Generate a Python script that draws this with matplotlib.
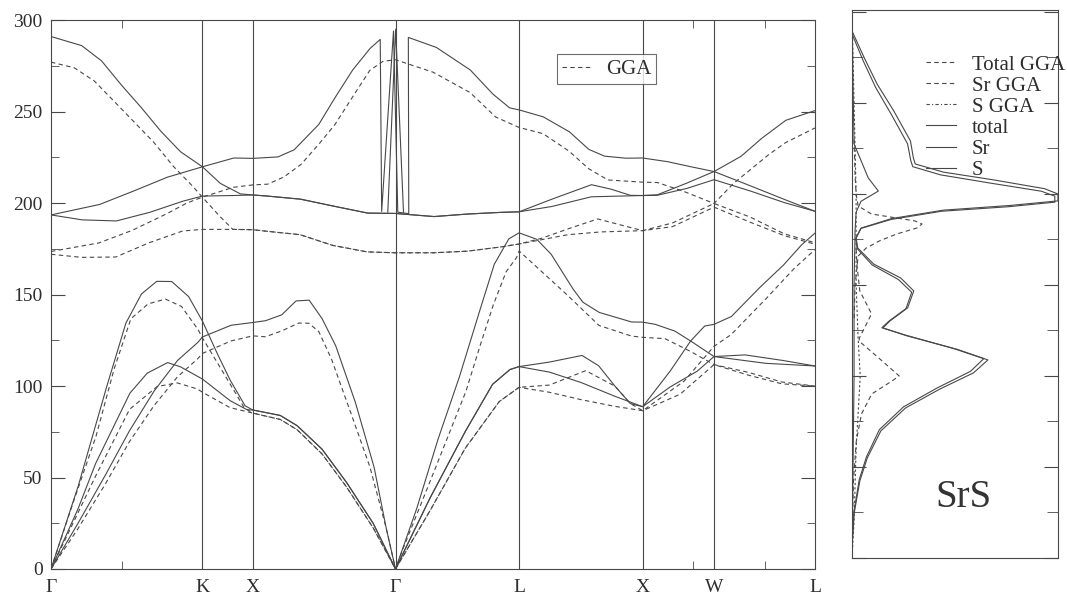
import matplotlib
matplotlib.use("Agg")
import matplotlib.pyplot as plt
from matplotlib.lines import Line2D

plt.rcParams["font.family"] = ["Liberation Serif", "DejaVu Serif"]

INK = "#484848"
TXT = "#2e2e2e"
LW = 0.8
DASH = (0, (4, 3))

# high symmetry points of the fcc path (units of 2*pi/a)
sym_k = [0, 1.0607, 1.4142, 2.4142, 3.2802, 4.1463, 4.6463, 5.3534]
sym_labels = ["Γ", "K", "X", "Γ", "L", "X", "W", "L"]

# ---- phonon branches, solid curves (cm-1) ----
so1_k = [0, 0.215, 0.354, 0.493, 0.631, 0.770, 0.908, 1.061, 1.187, 1.327, 1.414, 1.516, 1.749,
         1.980, 2.219, 2.414, 2.684, 2.923, 3.155, 3.280, 3.510, 3.787, 3.923, 4.060, 4.146,
         4.249, 4.456, 4.646, 4.904, 5.141, 5.353]
so1_f = [291, 286, 277.7, 264.5, 252.3, 239.2, 228, 219.8, 210.7, 205, 204.4, 203.8, 202.1,
         198.3, 194.5, 194.3, 192.6, 194.0, 194.9, 195.2, 202.1, 210.0, 207.6, 204.2, 204.1,
         204.5, 210.9, 217.2, 209.3, 201.9, 195.5]

so2_k = [0, 0.340, 0.574, 0.815, 1.061, 1.281, 1.414, 1.591, 1.704, 1.876, 1.992, 2.114, 2.236,
         2.307, 2.317, 2.400, 2.430, 2.507, 2.504, 2.701, 2.938, 3.097, 3.214, 3.280, 3.449,
         3.633, 3.769, 3.879, 4.029, 4.146, 4.320, 4.479, 4.646, 4.835, 4.981, 5.149, 5.353]
so2_f = [193.5, 199.2, 206.4, 214.1, 219.8, 224.6, 224.4, 225.2, 229.1, 242.9, 257.8, 272.7, 284.5,
         289.4, 195.4, 294, 195, 194.2, 290.5, 285.0, 272.7, 259.5, 252.0, 250.9, 247.1,
         238.9, 229.3, 225.6, 224.5, 224.6, 222.6, 219.9, 217.2, 225.5, 235.4, 245.2, 250.5]

so3_k = [0, 0.218, 0.458, 0.691, 0.924, 1.061, 1.277, 1.414, 1.516, 1.749, 1.980, 2.219, 2.414,
         2.684, 2.923, 3.155, 3.280, 3.509, 3.786, 4.146, 4.247, 4.456, 4.646, 4.903, 5.140, 5.353]
so3_f = [193.5, 190.8, 190.2, 194.9, 201, 203.8, 204.1, 204.4, 203.8, 202.1, 198.3, 194.5, 194.3,
         192.6, 194.0, 194.9, 195.2, 198.1, 203.4, 204.1, 204.2, 208, 212.75, 206.5, 200.2, 195.5]

spike_k = [2.36, 2.415, 2.47]
spike_f = [195, 295, 195]

sa1_k = [0, 0.191, 0.392, 0.525, 0.634, 0.741, 0.846, 0.964, 1.061, 1.167, 1.257, 1.360, 1.414,
         1.607, 1.725, 1.899, 2.072, 2.258, 2.414, 2.656, 2.904, 3.094, 3.216, 3.280, 3.494,
         3.721, 3.837, 3.952, 4.060, 4.146, 4.340, 4.482, 4.581, 4.646, 4.768, 4.965, 5.134,
         5.259, 5.353]
sa1_f = [0, 45.4, 100.1, 134.4, 150.3, 157.2, 157.1, 148.9, 135.5, 117.4, 103.0, 89.2, 86.9,
         83.9, 78.3, 65.5, 47.2, 24.9, 0, 38.8, 75.3, 100.9, 109.0, 110.6, 113.1,
         116.7, 111.1, 99.9, 90.4, 88.7, 108.3, 124.6, 132.8, 133.7, 138, 153.7, 166.2,
         177.1, 183.5]

sa2_k = [0, 0.189, 0.313, 0.553, 0.674, 0.817, 0.907, 1.061, 1.255, 1.374, 1.414, 1.607, 1.725,
         1.899, 2.072, 2.258, 2.414, 2.656, 2.904, 3.094, 3.216, 3.280, 3.493, 3.718, 3.951,
         4.146, 4.339, 4.528, 4.646, 5.008, 5.353]
sa2_f = [0, 32.8, 57.7, 96.1, 107.0, 112.8, 110.5, 103.8, 92.0, 87.0, 86.9, 83.9, 78.3,
         65.5, 47.2, 24.9, 0, 38.8, 75.3, 100.9, 109.0, 110.6, 107.6, 101.8, 94.4,
         88.7, 99.5, 108.1, 116.1, 112.4, 110.95]

sa3_k = [0, 0.188, 0.383, 0.549, 0.722, 0.887, 1.030, 1.061, 1.262, 1.414, 1.504, 1.617, 1.717,
         1.809, 1.899, 1.995, 2.133, 2.264, 2.349, 2.414, 2.563, 2.712, 2.861, 3.010, 3.106,
         3.208, 3.280, 3.403, 3.504, 3.659, 3.727, 3.842, 4.068, 4.146, 4.234, 4.372, 4.482,
         4.646, 4.864, 5.125, 5.353]
sa3_f = [0, 24.8, 51.6, 75.4, 97.2, 114, 123.9, 126.8, 133.2, 134.7, 135.7, 138.9, 146.5,
         146.9, 136.9, 122.0, 91.0, 55.6, 22.3, 0, 33.1, 70.9, 104.8, 142.6, 166.5,
         180.4, 183.7, 180.2, 172.1, 152.9, 145.8, 140.2, 135.0, 134.9, 133.7, 130.0, 124.6,
         116.1, 117, 114, 110.95]

# ---- phonon branches, GGA (dashed) ----
do1_k = [0, 0.163, 0.303, 0.442, 0.581, 0.720, 0.857, 0.996, 1.061, 1.183, 1.274, 1.414, 1.508,
         1.745, 1.976, 2.215, 2.414, 2.680, 2.919, 3.152, 3.280, 3.437, 3.624, 3.831, 3.968,
         4.146, 4.355, 4.646, 4.900, 5.137, 5.353]
do1_f = [277, 273.9, 266.7, 255.6, 244.4, 233.2, 220.1, 208.9, 203.2, 192.7, 185.6, 185.4, 184.6,
         182.7, 176.8, 173.3, 172.8, 172.8, 173.7, 176.0, 177.6, 180.7, 185.9, 191.3, 188.5,
         184.9, 189.1, 199.75, 192.3, 183.2, 178.3]

do2_k = [0, 0.336, 0.570, 0.810, 0.952, 1.061, 1.278, 1.414, 1.518, 1.631, 1.752, 1.874, 1.989,
         2.111, 2.234, 2.326, 2.414, 2.677, 2.936, 3.116, 3.280, 3.448, 3.631, 3.767, 3.903,
         4.146, 4.249, 4.429, 4.646, 4.781, 5.030, 5.147, 5.353]
do2_f = [173.5, 178.2, 185.1, 194.1, 200, 203.2, 208.6, 209.9, 210.3, 214.2, 221.1, 231.9, 242.8,
         257.7, 272.5, 277.4, 278.3, 271.5, 260.4, 247.0, 241.3, 237.9, 228.3, 218.8, 212.6,
         211.4, 211.2, 206.5, 199.75, 210.6, 226.5, 233, 241]

do3_k = [0, 0.215, 0.454, 0.688, 0.922, 1.061, 1.274, 1.414, 1.508, 1.745, 1.976, 2.215, 2.414,
         2.680, 2.919, 3.152, 3.280, 3.623, 3.851, 4.146, 4.355, 4.646, 4.900, 5.137, 5.353]
do3_f = [172, 170.3, 170.5, 178.3, 184.7, 185.6, 185.6, 185.4, 184.6, 182.7, 176.8, 173.3, 172.8,
         172.8, 173.7, 176.0, 177.6, 182.7, 184.2, 184.9, 187.1, 197.75, 189.5, 182.2, 177.5]

da1_k = [0, 0.147, 0.316, 0.443, 0.560, 0.681, 0.802, 0.914, 1.031, 1.061, 1.215, 1.354, 1.414,
         1.607, 1.725, 1.899, 2.072, 2.258, 2.414, 2.654, 2.902, 3.141, 3.280, 3.492, 3.747,
         3.952, 4.060, 4.146, 4.437, 4.646, 4.766, 5.015, 5.206, 5.353]
da1_f = [0, 34.4, 72.7, 109.5, 136.8, 144.9, 147.5, 143.5, 130.8, 126.3, 106.3, 88.1, 85.2,
         81.7, 76.1, 62.9, 44.7, 22.4, 0, 31.6, 65.9, 91.5, 99.3, 100.5, 108.4,
         99.9, 90.4, 86.5, 102.7, 121.7, 128.1, 148.1, 164.1, 174.5]

da2_k = [0, 0.312, 0.551, 0.744, 0.885, 1.025, 1.061, 1.254, 1.414, 1.607, 1.725, 1.899, 2.072,
         2.258, 2.414, 2.654, 2.902, 3.141, 3.280, 3.491, 3.717, 3.950, 4.146, 4.408, 4.646,
         4.884, 5.121, 5.353]
da2_f = [0, 50.7, 87.3, 99.7, 101.7, 98.4, 96.6, 88.2, 85.2, 81.7, 76.1, 62.9, 44.7,
         22.4, 0, 31.6, 65.9, 91.5, 99.3, 96.6, 92.5, 88.9, 86.5, 95.5, 111.7,
         106.0, 101.2, 99.95]

da3_k = [0, 0.187, 0.382, 0.548, 0.721, 0.886, 1.028, 1.061, 1.260, 1.414, 1.502, 1.616, 1.736,
         1.806, 1.876, 1.965, 2.100, 2.235, 2.349, 2.414, 2.467, 2.657, 2.908, 3.005, 3.100,
         3.189, 3.263, 3.280, 3.387, 3.618, 3.840, 4.067, 4.146, 4.302, 4.481, 4.646, 4.884,
         5.121, 5.353]
da3_f = [0, 21.8, 46.6, 69.4, 89.2, 105.0, 114.9, 117.8, 124.6, 127.4, 126.9, 130.1, 134.4,
         134.3, 129.8, 114.8, 85.5, 55.7, 22.3, 0, 11.2, 48.0, 97.2, 121.6, 144.5,
         162.4, 170.3, 173.8, 166.2, 149.7, 133.1, 127.3, 126.6, 125.9, 118.9, 111.7, 107.5,
         102.2, 99.95]

# ---- phonon DOS (arbitrary units) ----
dos_total_f = [289.6, 274.7, 260.4, 245.6, 229.1, 219.8, 216.5, 212, 207.7, 202.9, 200, 196.2,
               193.7, 191.1, 186.5, 181.3, 175.8, 170.3, 161.5, 153.8, 146.7, 137.4, 130.2,
               126.4, 122, 114.6, 108.8, 101.7, 92.7, 82.4, 69.8, 54.9, 42.3, 24.2, 5.5, 0]
dos_total = [0, 0.06, 0.122, 0.203, 0.284, 0.298, 0.307, 0.444, 0.69, 0.935, 1.0, 1.0,
             0.77, 0.443, 0.193, 0.045, 0.02, 0.028, 0.105, 0.237, 0.30, 0.27, 0.184,
             0.15, 0.268, 0.512, 0.66, 0.59, 0.425, 0.26, 0.14, 0.074, 0.038, 0.01, 0, 0]
dos_total_gga_f = [288, 273, 258.5, 243.5, 227.5, 218.5, 215, 210.5, 206, 201.5, 198.8, 195.5,
                   193, 190.5, 186, 181, 175.5, 170, 161, 153, 146, 137, 130,
                   126.5, 122.5, 115, 109.5, 102.5, 93.5, 83, 70.5, 55.5, 43, 25, 6, 0]
dos_total_gga = [0, 0.055, 0.115, 0.192, 0.27, 0.285, 0.295, 0.43, 0.67, 0.92, 0.985, 0.985,
                 0.76, 0.435, 0.19, 0.042, 0.018, 0.025, 0.098, 0.225, 0.29, 0.262, 0.178,
                 0.145, 0.258, 0.495, 0.64, 0.575, 0.415, 0.25, 0.133, 0.07, 0.035, 0.009, 0, 0]
dos_s_gga_f = [230, 210, 200, 193.4, 189, 186.8, 185.2, 183.5, 181.3, 178, 174.2, 170.3, 165.9, 150, 130]
dos_s_gga = [0.01, 0.015, 0.02, 0.03, 0.094, 0.217, 0.305, 0.34, 0.315, 0.217, 0.133, 0.069, 0.03, 0.015, 0.01]
dos_sr_gga_f = [170, 160, 146.7, 134.1, 120.9, 119.2, 108.2, 100, 97.3, 90.1, 79.1, 64.3, 42.3, 9.3, 0]
dos_sr_gga = [0.02, 0.025, 0.038, 0.095, 0.036, 0.034, 0.147, 0.229, 0.195, 0.096, 0.046, 0.021, 0.007, 0, 0]
dos_s_f = [300, 260, 227.5, 208.8, 201.6, 196, 190, 180, 150, 100, 50, 0]
dos_s = [0, 0.005, 0.01, 0.079, 0.128, 0.044, 0.02, 0.015, 0.01, 0.01, 0.005, 0]
dos_sr_f = [300, 250, 200, 150, 120, 100, 60, 20, 0]
dos_sr = [0, 0.01, 0.02, 0.02, 0.03, 0.04, 0.02, 0.01, 0]

legend_labels = ["Total GGA", "Sr GGA", "S GGA", "total", "Sr", "S"]

fig = plt.figure(figsize=(10.67, 5.98), dpi=100)
ax = fig.add_axes([0.0478, 0.0485, 0.716, 0.918])
ax2 = fig.add_axes([0.7985, 0.067, 0.193, 0.916])

solid = [(so1_k, so1_f), (so2_k, so2_f), (so3_k, so3_f), (spike_k, spike_f),
         (sa1_k, sa1_f), (sa2_k, sa2_f), (sa3_k, sa3_f)]
dashed = [(do1_k, do1_f), (do2_k, do2_f), (do3_k, do3_f),
          (da1_k, da1_f), (da2_k, da2_f), (da3_k, da3_f)]
for k, f in solid:
    ax.plot(k, f, color=INK, lw=LW)
for k, f in dashed:
    ax.plot(k, f, color=INK, lw=LW, ls=DASH)

for k in sym_k[1:-1]:
    ax.axvline(k, color=INK, lw=LW)

ax.set_xlim(0, sym_k[-1])
ax.set_ylim(0, 300)
ax.set_xticks(sym_k)
ax.set_xticklabels(sym_labels, fontsize=14, color=TXT)
ax.set_xticks([0.5, 4.5, 5.0], minor=True)
ax.tick_params(axis="x", which="major", length=0, pad=7)
ax.tick_params(axis="x", which="minor", direction="in", length=6, top=True, color=INK)
ax.set_yticks(range(0, 301, 50))
ax.set_yticks(range(25, 300, 50), minor=True)
ax.tick_params(axis="y", which="major", direction="in", length=10, right=True,
               labelsize=14, labelcolor=TXT, color=INK, pad=6)
ax.tick_params(axis="y", which="minor", direction="in", length=6, right=True, color=INK)
for s in ax.spines.values():
    s.set_color(INK)
    s.set_linewidth(LW)

h = Line2D([], [], color=INK, lw=LW, ls=DASH)
leg = ax.legend([h], ["GGA"], loc="upper left", bbox_to_anchor=(0.662, 0.938),
                fontsize=15, frameon=True, fancybox=False, handlelength=1.5,
                borderpad=0.25, handletextpad=0.6, borderaxespad=0)
leg.get_frame().set_edgecolor(INK)
leg.get_frame().set_linewidth(LW)
for t in leg.get_texts():
    t.set_color(TXT)

# DOS panel
ax2.plot(dos_total, dos_total_f, color=INK, lw=LW)
ax2.plot(dos_total_gga, dos_total_gga_f, color=INK, lw=LW)
ax2.plot(dos_s_gga, dos_s_gga_f, color=INK, lw=LW, ls=DASH)
ax2.plot(dos_sr_gga, dos_sr_gga_f, color=INK, lw=LW, ls=DASH)
ax2.plot(dos_s, dos_s_f, color=INK, lw=LW)
ax2.plot(dos_sr, dos_sr_f, color=INK, lw=LW, ls=(0, (2, 2)))
ax2.set_xlim(0, 1.0)
ax2.set_ylim(0, 301)
ax2.set_xticks([])
ax2.set_yticks(range(0, 301, 50))
ax2.set_yticks(range(25, 300, 50), minor=True)
ax2.tick_params(axis="y", which="both", direction="in", right=True, labelleft=False,
                color=INK)
ax2.tick_params(axis="y", which="major", length=10)
ax2.tick_params(axis="y", which="minor", length=8)
for s in ax2.spines.values():
    s.set_color(INK)
    s.set_linewidth(LW)

styles = [DASH, DASH, (0, (3, 2, 1, 2)), "-", "-", "-"]
handles = [Line2D([], [], color=INK, lw=LW, ls=st) for st in styles]
leg2 = ax2.legend(handles, legend_labels, loc="upper left", bbox_to_anchor=(0.36, 0.918),
                  fontsize=15, frameon=False, handlelength=1.45, labelspacing=0.07,
                  handletextpad=0.75, borderpad=0, borderaxespad=0)
for t in leg2.get_texts():
    t.set_color(TXT)
ax2.text(0.54, 0.11, "SrS", transform=ax2.transAxes, fontsize=28, color="#333333",
         ha="center", va="center")

fig.savefig("out.png", dpi=100, facecolor="white")
